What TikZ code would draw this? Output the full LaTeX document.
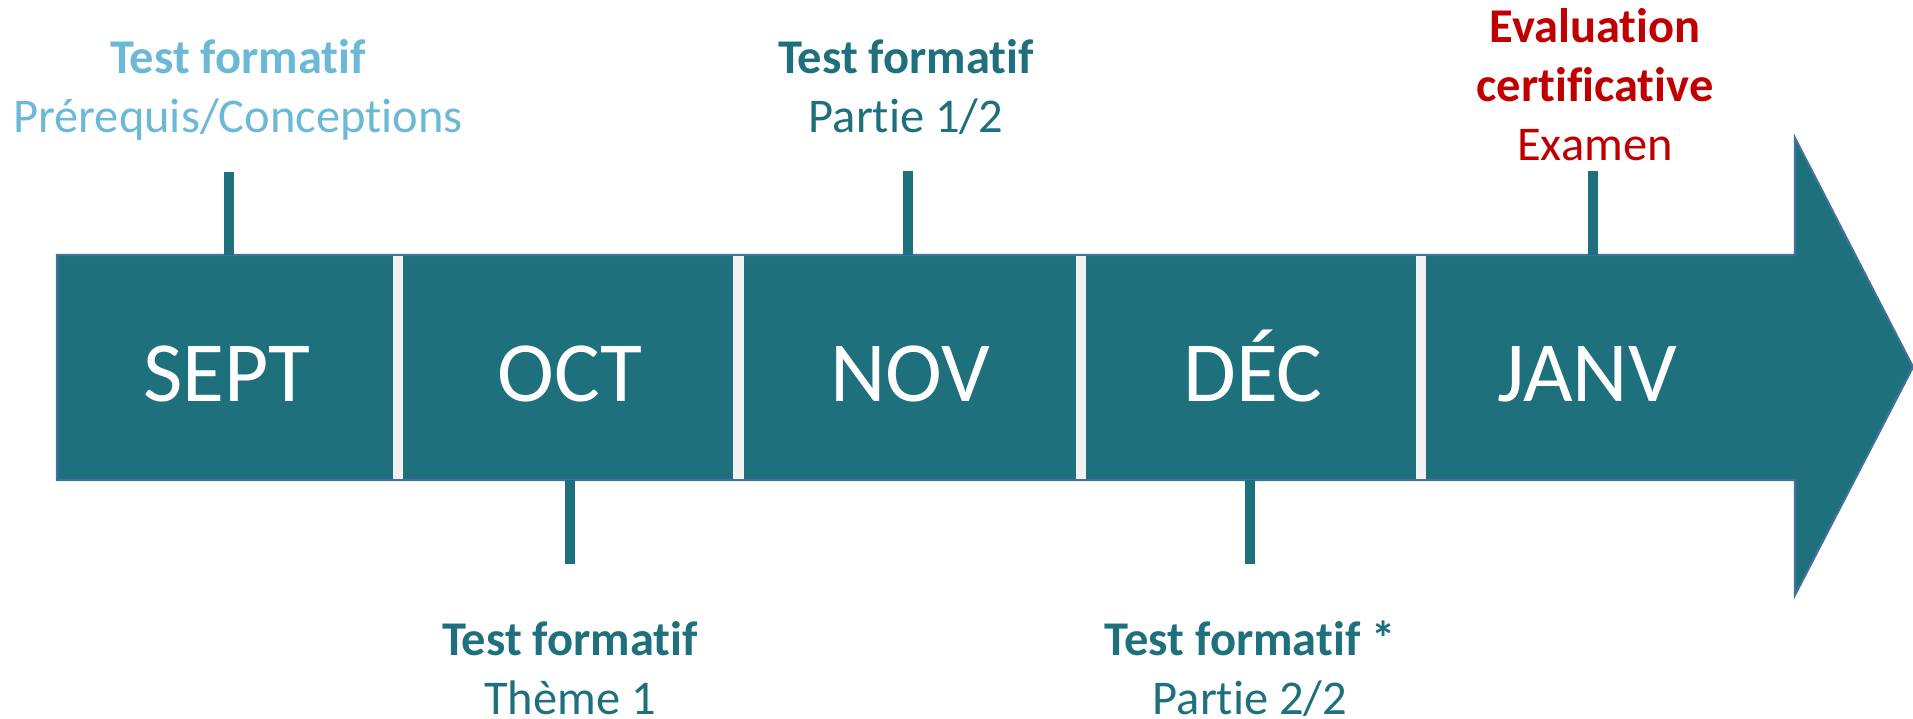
\documentclass[tikz,border=0pt]{standalone}
\usepackage{fontspec}
\setmainfont{Carlito}[Ligatures=NoCommon]
\usepackage{tikz}
\usetikzlibrary{positioning, calc}
\definecolor{tlteal}{HTML}{1E707C}
\definecolor{tledge}{HTML}{41719C}
\definecolor{tlgap}{HTML}{F2F2F2}
\definecolor{tlsky}{HTML}{6CB9D7}
\definecolor{tlred}{HTML}{C00000}

\begin{document}
\begin{tikzpicture}[
    month/.style={text=white, font=\fontsize{24.4}{29}\selectfont, anchor=base, inner sep=0pt},
    testlbl/.style={align=center, font=\fontsize{13.8}{16.7}\selectfont, anchor=base, inner sep=0pt},
    tickline/.style={draw=tlteal, line width=0.107cm},
    gapline/.style={draw=tlgap, line width=0.107cm}
]
\useasboundingbox (0,0) rectangle (19.13,7.18);

% Arrow body
\draw[fill=tlteal, draw=tledge, line width=0.6pt]
    (0.57,2.38) -- (17.95,2.38) -- (17.95,1.23) -- (19.13,3.51)
    -- (17.95,5.80) -- (17.95,4.63) -- (0.57,4.63) -- cycle;
\coordinate (bartop) at (0,4.63);
\coordinate (barbot) at (0,2.38);

% Month separators
\foreach \x in {3.98,7.385,10.81,14.21}
    \draw[gapline] (\x,4.62) -- (\x,2.39);

% Months (base line)
\node[month] (sept) at (2.27,3.17) {SEPT};
\node[month] (oct) at (5.70,3.17) {OCT};
\node[month] (nov) at (9.10,3.17) {NOV};
\node[month] (dec) at (12.53,3.17) {DÉC};
\node[month] (janv) at (15.87,3.17) {JANV};

% Tick marks
\coordinate (tsept) at (2.29,5.46);
\coordinate (tnov) at (9.08,5.47);
\coordinate (tjanv) at (15.93,5.47);
\coordinate (toct) at (5.70,1.54);
\coordinate (tdec) at (12.50,1.54);

\draw[tickline] (tsept) -- (tsept |- bartop);
\draw[tickline] (tnov) -- (tnov |- bartop);
\draw[tickline] (tjanv) -- (tjanv |- bartop);
\draw[tickline] (toct) -- (toct |- barbot);
\draw[tickline] (tdec) -- (tdec |- barbot);

% Tests (anchored on the last line)
\node[testlbl, text=tlsky] (lsept) at (2.38,5.86) {\textbf{Test formatif}\\Prérequis/Conceptions};
\node[testlbl, text=tlteal] (lnov) at (9.06,5.86) {\textbf{Test formatif}\\Partie 1/2};
\node[testlbl, text=tlred] (ljanv) at (15.95,5.58) {\textbf{Evaluation}\\\textbf{certificative}\\Examen};
\node[testlbl, text=tlteal] (loct) at (5.70,0.04) {\textbf{Test formatif}\\Thème 1};
\node[testlbl, text=tlteal] (ldec) at (12.50,0.04) {\textbf{Test formatif *}\\Partie 2/2};

\end{tikzpicture}
\end{document}
